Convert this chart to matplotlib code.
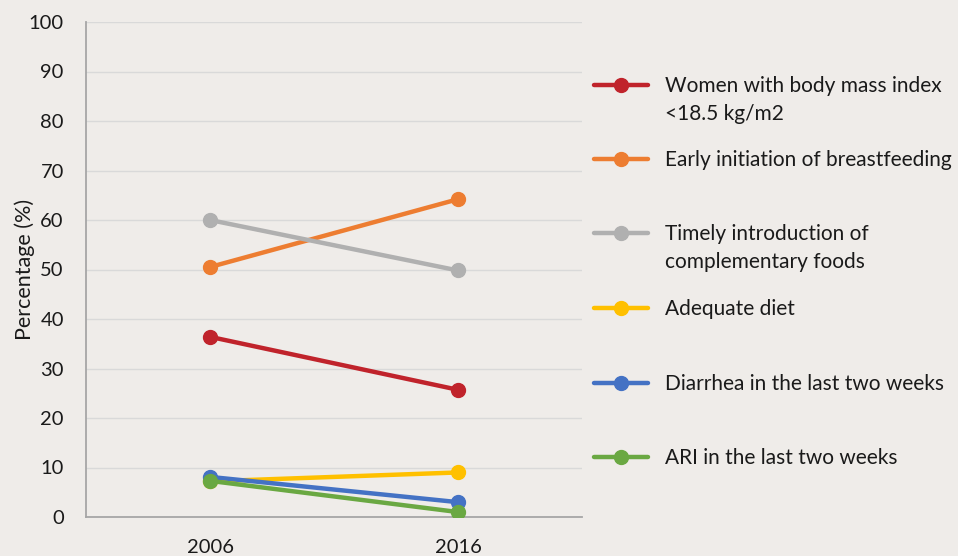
import matplotlib
matplotlib.use("Agg")
import matplotlib.pyplot as plt

plt.rcParams['font.family'] = ['Lato', 'DejaVu Sans']

# data
years = ['2006', '2016']
labels = ['Women with body mass index', 'Early initiation of breastfeeding',
          'Timely introduction of', 'Adequate diet',
          'Diarrhea in the last two weeks', 'ARI in the last two weeks']
label_more = ['<18.5 kg/m2', '', 'complementary foods', '', '', '']
bmi = [36.4, 25.7]
breastfeeding = [50.5, 64.2]
complementary = [60.0, 49.8]
diet = [7.2, 9.0]
diarrhea = [8.1, 3.0]
ari = [7.3, 1.0]
series = [bmi, breastfeeding, complementary, diet, diarrhea, ari]
colors = ['#C0232B', '#ED7D31', '#B0B0B0', '#FFC000', '#4472C4', '#6AA842']

bg = '#EFECE9'
txt = '#1A1A1A'
fig = plt.figure(figsize=(9.58, 5.56), dpi=100, facecolor=bg)
ax = fig.add_axes([86 / 958, 39 / 556, 496 / 958, 495 / 556])
ax.set_facecolor(bg)

x = list(range(len(years)))
lines = []
for vals, c in zip(series, colors):
    ln, = ax.plot(x, vals, color=c, lw=3.2, marker='o', ms=10,
                  solid_capstyle='round', zorder=3)
    lines.append(ln)

ax.set_xlim(-0.5, 1.5)
ax.set_ylim(0, 100)
ax.set_yticks(range(0, 101, 10))
ax.set_xticks(x)
ax.set_xticklabels(years)
ax.tick_params(length=0, labelsize=14.5, colors=txt)
ax.tick_params(axis='y', pad=16)
ax.tick_params(axis='x', pad=16)
ax.grid(axis='y', color='#D9D9D9', lw=1)
ax.set_axisbelow(True)
for s in ['top', 'right']:
    ax.spines[s].set_visible(False)
ax.spines['left'].set_color('#A6A6A6')
ax.spines['bottom'].set_color('#A6A6A6')
ax.spines['left'].set_linewidth(1.3)
ax.spines['bottom'].set_linewidth(1.3)
ax.set_ylabel('Percentage (%)', fontsize=15.5, color=txt)
ax.yaxis.set_label_coords(-0.103, 0.5)

# legend, one entry each so the spacing matches
ys = [86, 160, 234, 309, 384, 458]
fig.canvas.draw()
for ln, lab, more, yp in zip(lines, labels, label_more, ys):
    leg = fig.legend([ln], [lab], loc='center left',
                     bbox_to_anchor=(594 / 958, 1 - yp / 556),
                     frameon=False, borderpad=0, borderaxespad=0,
                     handlelength=2.6, handletextpad=0.8, fontsize=15)
    for t in leg.get_texts():
        t.set_color(txt)
    if more:
        fig.canvas.draw()
        bb = leg.get_texts()[0].get_window_extent()
        fig.text(bb.x0 / fig.bbox.width, 1 - (yp + 28) / 556, more,
                 fontsize=15, color=txt, va='center')

fig.savefig('out.png', dpi=100, facecolor=bg)
